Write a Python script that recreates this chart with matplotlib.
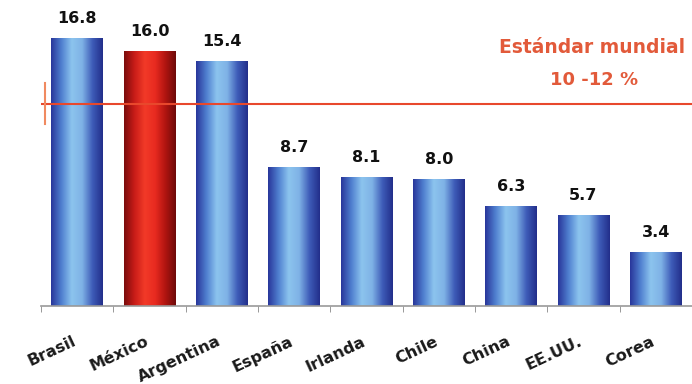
import matplotlib
matplotlib.use("Agg")
import matplotlib.pyplot as plt
from matplotlib.colors import LinearSegmentedColormap
import numpy as np

countries = ["Brasil", "México", "Argentina", "España", "Irlanda", "Chile", "China", "EE.UU.", "Corea"]
values = [16.8, 16.0, 15.4, 8.7, 8.1, 8.0, 6.3, 5.7, 3.4]
highlight = "México"
standard_level = 12.7
standard_title = "Estándar mundial"
standard_range = "10 -12 %"

plt.rcParams['font.family'] = ['DejaVu Sans']

blue_cmap = LinearSegmentedColormap.from_list(
    "blue_bar", ["#28359a", "#4f7fcf", "#8cc4ee", "#7fb2e6", "#3e5cb8", "#222e8a"])
red_cmap = LinearSegmentedColormap.from_list(
    "red_bar", ["#7a0c0c", "#c81c18", "#f23a28", "#e82a20", "#b01410", "#6e0a0a"])

fig = plt.figure(figsize=(6.92, 3.84), dpi=100)
ax = fig.add_axes([41 / 692, 1 - 306 / 384, 651 / 692, 306 / 384])

x = np.arange(len(countries))
bar_w = 0.71
bars = ax.bar(x, values, width=bar_w, color="none", edgecolor="none", zorder=2)

grad = np.linspace(0, 1, 256).reshape(1, -1)
for b, name in zip(bars, countries):
    cmap = red_cmap if name == highlight else blue_cmap
    x0, y0 = b.get_x(), b.get_y()
    im = ax.imshow(grad, cmap=cmap, aspect="auto", zorder=2,
                   extent=[x0, x0 + b.get_width(), y0, y0 + b.get_height()])
    im.set_clip_path(b)

for xi, v in zip(x, values):
    ax.text(xi, v + 0.75, f"{v:.1f}", ha="center", va="bottom",
            fontsize=11.5, fontweight="bold", color="#111111", zorder=4)

# standard line
ax.axhline(standard_level, color="#e8482c", lw=1.5, zorder=3)
ax.plot([-0.45, -0.45], [standard_level - 1.3, standard_level + 1.3],
        color="#f08a60", lw=1.5, zorder=3, clip_on=False)
ax.text(7.12, 16.2, standard_title, ha="center", va="center", color="#e25a3a",
        fontsize=13.5, fontweight="bold", zorder=4)
ax.text(7.14, 14.2, standard_range, ha="center", va="center", color="#e25a3a",
        fontsize=13, fontweight="bold", zorder=4)

ax.set_xlim(-0.5, -0.5 + 651 / 73)
ax.set_ylim(0, 19.2)
ax.set_yticks([])
# labels sit slightly left of the bar centres, as in the original
ax.set_xticks(x - 0.07)
ax.set_xticklabels(countries, rotation=25, ha="right", rotation_mode="anchor",
                   fontsize=11.5, fontweight="bold", color="#1a1a1a")
ax.set_xticks(np.arange(-0.5, len(countries)), minor=True)
ax.tick_params(axis="x", which="major", length=0, pad=20)
ax.tick_params(axis="x", which="minor", length=4, color="#888888", direction="out")
for s in ["top", "right", "left"]:
    ax.spines[s].set_visible(False)
ax.spines["bottom"].set_color("#999999")
ax.spines["bottom"].set_linewidth(1.2)

fig.savefig("out.png", dpi=100)
